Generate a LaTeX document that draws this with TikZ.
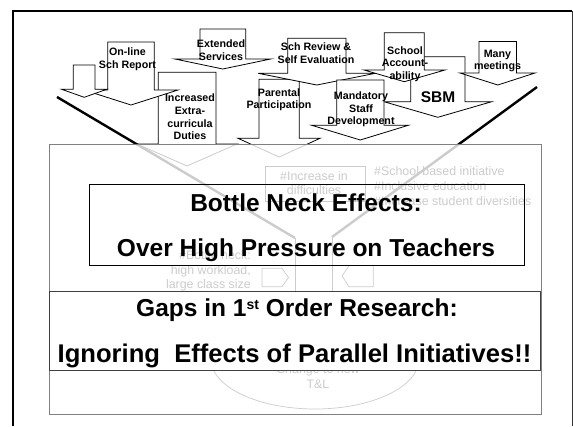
\documentclass[tikz,border=0pt]{standalone}
\usepackage{fontspec}
\setmainfont{Liberation Sans}
\begin{document}
\begin{tikzpicture}[x=1pt,y=-1pt,
  blk/.style={draw=black, fill=white, line width=0.8pt, line join=miter},
  lbl/.style={font=\fontsize{10.7}{12.6}\selectfont\bfseries, align=center, inner sep=0pt, anchor=north},
  faint/.style={font=\fontsize{12.4}{14.5}\selectfont, inner sep=0pt},
  big/.style={font=\fontsize{24.5}{29}\selectfont\bfseries, inner sep=0pt, anchor=base},
  funnel/.style={line width=2.4pt, black},
  thinline/.style={line width=0.7pt, black}]
\useasboundingbox (0,0) rectangle (573,426);
% frame
\draw[line width=2.6pt] (13,426) -- (13,11) -- (572,11);
\draw[line width=1pt, black!80] (572,11) -- (572,426);

% ---- background (later faded) ----
\coordinate (fl0) at (57,97);
\coordinate (fl1) at (295,238);
\coordinate (fr0) at (537,87);
\coordinate (fr1) at (332,237);
\coordinate (nl) at (295,318);
\coordinate (nr) at (332,318);
\draw[funnel] (fl0) -- (fl1);
\draw[funnel] (fr0) -- (fr1);
\draw[thinline] (fl1) -- (nl);
\draw[thinline] (fr1) -- (nr);
\node[faint, anchor=base] (inc) at (314,180) {\#Increase in};
\node[faint, anchor=base] (dif) at (314,194.5) {difficulties};
\draw[thinline] (265.7,166) rectangle (365,201);
\node[faint, anchor=base west] (sbi) at (374,175.7) {\#School based initiative};
\node[faint, anchor=base west] (ied) at (374,190) {\#Inclusive education};
\node[faint, anchor=base west] (isd) at (374,205) {\#Increase student diversities};
\node[faint, anchor=base east] (bn) at (251,259.5) {\#Bottle neck:};
\node[faint, anchor=base east] (hw) at (251,274) {high workload,};
\node[faint, anchor=base east] (lc) at (251,288.5) {large class size};
\draw[thinline] (262,268.3) -- (282,268.3) -- (288.5,277.5) -- (282,286.7) -- (262,286.7) -- cycle;
\draw[thinline] (373.3,265.5) -- (349,265.5) -- (342,276) -- (349,286.7) -- (373.3,286.7) -- cycle;
\draw[thinline] (315,359) ellipse [x radius=104, y radius=50];
\node[faint, anchor=base] (ctn) at (318,373) {Change to new};
\node[faint, anchor=base] (tl) at (318,388) {T\&L};

% ---- block arrows ----
% Extended services
\draw[blk] (200,29) -- (245.7,29) -- (245.7,59) -- (270.7,59) -- (222.8,69) -- (175,59) -- (200,59) -- cycle;
% Duties
\draw[blk] (158.3,72.3) -- (216,72.3) -- (216,144) -- (237,144) -- (187,166) -- (137,144) -- (158.3,144) -- cycle;
% On-line
\draw[blk] (107.8,42) -- (154.2,42) -- (154.2,90) -- (178,90) -- (131,105) -- (84,90) -- (107.8,90) -- cycle;
% small unlabelled
\draw[blk] (73.3,65) -- (95,65) -- (95,89.3) -- (106.7,89.3) -- (84.2,97.3) -- (61.7,89.3) -- (73.3,89.3) -- cycle;
% Parental
\draw[blk] (259,79.3) -- (299.3,79.3) -- (299.3,138.3) -- (320,138.3) -- (279.2,157) -- (238,138.3) -- (259,138.3) -- cycle;
% Sch Review
\draw[blk] (287.7,38.3) -- (346,38.3) -- (346,73.3) -- (375.3,73.3) -- (316.8,85) -- (258.3,73.3) -- (287.7,73.3) -- cycle;
% SBM
\draw[blk] (410.7,56.7) -- (465,56.7) -- (465,101.7) -- (491.7,101.7) -- (437.8,117.3) -- (384,101.7) -- (410.7,101.7) -- cycle;
% Mandatory
\draw[blk] (336.7,80) -- (384,80) -- (384,125.3) -- (408.3,125.3) -- (360.3,140) -- (311.7,125.3) -- (336.7,125.3) -- cycle;
% School accountability
\draw[blk] (384.3,32.7) -- (424.3,32.7) -- (424.3,70) -- (445,70) -- (404.3,81.7) -- (364,70) -- (384.3,70) -- cycle;
% Many meetings
\draw[blk] (479,41.5) -- (516.5,41.5) -- (516.5,73) -- (535,73) -- (497.8,85) -- (460,73) -- (479,73) -- cycle;

% labels
\node[lbl] (online) at (127.5,48) {On-line\\Sch Report};
\node[lbl] (ext) at (221,39.6) {Extended\\Services};
\node[lbl] (dut) at (190,94) {Increased\\Extra-\\curricula\\Duties};
\node[lbl] (par) at (279,88.3) {Parental\\Participation};
\node[lbl] (rev) at (316,43) {Sch Review \&\\Self Evaluation};
\node[lbl] (acc) at (405,46.3) {School\\Account-\\ability};
\node[lbl] (many) at (497.5,49.6) {Many\\meetings};
\node[lbl] (man) at (361,91.6) {Mandatory\\Staff\\Development};
\node[font=\fontsize{15.5}{18}\selectfont\bfseries, inner sep=0pt, anchor=base] (sbm) at (438,102.7) {SBM};

% ---- translucent overlay ----
\fill[white, fill opacity=0.8] (49,144) rectangle (541,414);
\node[draw=black!50, line width=1pt, minimum width=492pt, minimum height=270pt, inner sep=0pt] (outer) at (295,279) {};

% ---- message boxes ----
\node[draw=black, line width=1pt, minimum width=435.3pt, minimum height=80.7pt, inner sep=0pt] (bbox) at (306.65,224.65) {};
\node[big] (b1) at (306,211.7) {Bottle Neck Effects:};
\node[big] (b2) at (306,256.7) {Over High Pressure on Teachers};
\node[draw=black!75, fill=white, line width=1pt, minimum width=491pt, minimum height=79pt, inner sep=0pt] (gbox) at (294.5,330.5) {};
\node[big] (g1) at (297,316.7) {Gaps in 1\raisebox{7.5pt}{\fontsize{14}{14}\selectfont st} Order Research:};
\node[big, font=\fontsize{25.6}{30}\selectfont\bfseries] (g2) at (294.5,362.7) {Ignoring\ \ Effects of Parallel Initiatives!!};
\end{tikzpicture}
\end{document}
